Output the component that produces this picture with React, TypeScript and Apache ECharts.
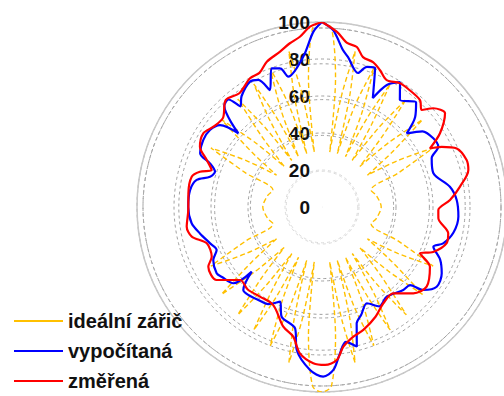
import React, { useEffect, useRef } from 'react';
import * as echarts from 'echarts';

// Radiation patterns in polar form: [angle in degrees clockwise from top, level]
const seriesNames = ['ideální zářič', 'vypočítaná', 'změřená'];
const seriesColors = ['#ffc000', '#0000ff', '#ff0000'];

const radiusMin = 0;
const radiusMax = 100;
const radiusStep = 20;

const ideal: [number, number][] = [
  [0, 100], [3, 97], [6, 70], [8, 30], [10, 62], [12, 86], [14, 62], [16, 30],
  [18, 58], [20.5, 80], [23, 55], [25, 30], [27, 55], [29, 76], [31, 52], [33, 30],
  [35.5, 52], [38, 74], [40.5, 50], [43, 30], [46, 50], [49, 72], [52, 48], [55, 30],
  [58.5, 48], [62, 68], [66, 45], [71, 28], [78, 30], [90, 32], [102, 30], [109, 28],
  [114, 45], [118, 68], [121.5, 48], [125, 30], [128, 48], [131, 72], [134, 50], [137, 30],
  [139.5, 50], [142, 74], [144.5, 52], [147, 30], [149, 55], [151, 76], [153, 55], [155, 30],
  [157, 56], [159.5, 80], [162, 58], [164, 30], [166, 62], [168, 86], [170, 62], [172, 30],
  [174, 70], [177, 97], [180, 100], [183, 97], [186, 70], [188, 30], [190, 62], [192, 86],
  [194, 62], [196, 30], [198, 58], [200.5, 80], [203, 55], [205, 30], [207, 55], [209, 76],
  [211, 52], [213, 30], [215.5, 52], [218, 74], [220.5, 50], [223, 30], [226, 50], [229, 72],
  [232, 48], [235, 30], [238.5, 48], [242, 68], [246, 45], [251, 28], [258, 30], [270, 32],
  [282, 30], [289, 28], [294, 45], [298, 68], [301.5, 48], [305, 30], [308, 48], [311, 72],
  [314, 50], [317, 30], [319.5, 50], [322, 74], [324.5, 52], [327, 30], [329, 55], [331, 76],
  [333, 55], [335, 30], [337, 56], [339.5, 80], [342, 58], [344, 30], [346, 62], [348, 86],
  [350, 62], [352, 30], [354, 70], [357, 97], [360, 100],
];

const computed: [number, number][] = [
  [0, 100], [3.6, 95.8], [7.6, 85.6], [9.8, 82.3], [15, 75], [17.8, 79.5], [20.9, 80.4],
  [25, 65], [28, 74.7], [32, 79.6], [36, 71.6], [42, 76], [46, 70], [49, 60.7], [53, 68],
  [58.3, 70.7], [62.6, 70.8], [66, 64.9], [73, 62.9], [81, 70], [87, 72.9], [94, 73.9],
  [101, 72.4], [106.7, 68.4], [109.6, 63.9], [114, 69.9], [119, 74], [124.8, 75.5],
  [129.3, 70.8], [131.6, 63.6], [135.6, 62.8], [144.2, 59.8], [150, 62], [155, 57.4],
  [160, 62], [163.4, 65.6], [166, 77.8], [170, 74], [173, 79.7], [176, 88.3], [179.6, 91.7],
  [184.2, 88.3], [190, 78.5], [192.5, 67.2], [200.2, 63.2], [203.9, 56], [209, 60],
  [214.4, 60.9], [220, 62], [223.5, 61.8], [227.4, 51.6], [229.3, 63.2], [235, 66],
  [237.8, 67.3], [244, 65.4], [247.8, 61.5], [252, 63.6], [257.8, 67.5], [262.9, 71],
  [270, 72.3], [277.3, 71.9], [282.2, 69.3], [285.1, 62.7], [288.3, 60.9], [291.3, 65],
  [293.8, 72], [299.4, 73.7], [304.5, 73.5], [308.8, 70.7], [311.4, 60.3], [316, 76],
  [319, 77], [321, 70], [324, 74], [330, 78.1], [333.4, 76.8], [336, 69.2], [340, 79.8],
  [343.2, 78.3], [345.5, 72.8], [352.9, 81.9], [357.2, 94.9], [360, 100],
];

const measured: [number, number][] = [
  [0, 100], [4.9, 95], [8.7, 89.7], [12.3, 88.5], [15.3, 84], [19.4, 83], [22.9, 80.4],
  [27, 77], [32, 79], [36, 79], [42.5, 78.4], [45.8, 75.2], [48.4, 80.4], [52.7, 83.6],
  [58, 75.2], [61.5, 66.4], [63.3, 72.4], [66.5, 79.4], [72, 82.2], [75.8, 81.6],
  [81.6, 75.4], [86.9, 69.3], [91.5, 62.9], [95.5, 63.2], [101.8, 69.7], [106, 70.2],
  [112, 64.8], [115.3, 58.6], [119, 66.7], [127.3, 71.1], [133.4, 67.9], [140.4, 60.5],
  [147.5, 61.7], [154, 66], [161.4, 70.1], [166.4, 72.1], [171.3, 76.4], [174.5, 83.1],
  [178.9, 85.4], [183.2, 84.6], [188.6, 80], [192.5, 71.8], [197.9, 68], [206.4, 59.2],
  [214.7, 58.9], [222, 60], [228.3, 59.3], [235.3, 69.3], [242.3, 69.4], [245.7, 65.4],
  [252.5, 65.3], [257.2, 72.2], [261.7, 73.9], [268.7, 72.3], [275.8, 72.6], [283.1, 72.3],
  [286.1, 68.7], [288.5, 62.9], [292.2, 67.3], [296.3, 73.6], [301.8, 75.5], [306.5, 73],
  [312, 72], [318, 77.8], [324, 76], [330.8, 79.7], [335, 80], [339.2, 84], [344.9, 87],
  [348.9, 90.2], [352.6, 92.8], [356.2, 97.7], [360, 100],
];

const FONT = '"Liberation Sans", Arial, sans-serif';
const CENTER = [322, 207];
const LEGEND_TOPS = [311, 341, 371];

// polar series take [radius, angle]
const toPolar = (pts: [number, number][]) => pts.map(([a, v]) => [v, a]);

function buildOption() {
  const angleBase = {
    type: 'value' as const,
    min: 0,
    max: 360,
    startAngle: 90,
    clockwise: true,
    axisTick: { show: false },
    axisLabel: { show: false },
    splitLine: { show: false },
  };
  const radiusBase = {
    type: 'value' as const,
    min: radiusMin,
    max: radiusMax,
    interval: radiusStep,
    axisLine: { show: false },
    axisTick: { show: false },
  };
  const ringColors = ['#a0a0a0', '#dadada', '#a0a0a0', '#a0a0a0', '#a0a0a0', '#a0a0a0'];
  const series = [ideal, computed, measured].map((pts, i) => ({
    name: seriesNames[i],
    type: 'line',
    coordinateSystem: 'polar',
    polarIndex: 0,
    symbol: 'none',
    smooth: 0.3,
    data: toPolar(pts),
    lineStyle:
      i === 0
        ? { color: seriesColors[i], width: 1.4, type: [5, 3] }
        : { color: seriesColors[i], width: 2.2 },
    itemStyle: { color: seriesColors[i] },
  }));
  return {
    animation: false,
    backgroundColor: '#ffffff',
    polar: [
      { center: CENTER, radius: 185 },
      { center: CENTER, radius: 179 },
    ],
    angleAxis: [
      { ...angleBase, polarIndex: 0, axisLine: { show: true, lineStyle: { color: '#c8c8c8', width: 1.5 } } },
      { ...angleBase, polarIndex: 1, axisLine: { show: true, lineStyle: { color: '#aaaaaa', width: 1, type: [4, 3] } } },
    ],
    radiusAxis: [
      {
        ...radiusBase,
        polarIndex: 0,
        axisLabel: {
          show: true,
          color: '#111',
          fontSize: 19,
          fontFamily: FONT,
          fontWeight: 'bold',
          margin: 12,
        },
        splitLine: { show: true, lineStyle: { color: ringColors, width: 1, type: [3, 3] } },
      },
      {
        ...radiusBase,
        polarIndex: 1,
        axisLabel: { show: false },
        splitLine: { show: true, lineStyle: { color: ringColors, width: 1, type: [3, 3] } },
      },
    ],
    legend: seriesNames.map((name, i) => ({
      orient: 'vertical',
      left: 14,
      top: LEGEND_TOPS[i],
      padding: 0,
      icon: 'rect',
      itemWidth: 49,
      itemHeight: 2,
      data: [name],
      textStyle: { fontSize: 20, lineHeight: 20, fontWeight: 'bold', fontFamily: FONT, color: '#111' },
    })),
    series,
  };
}

export default function App() {
  const ref = useRef<HTMLDivElement>(null);
  useEffect(() => {
    if (!ref.current) return;
    const chart = echarts.init(ref.current, null, { renderer: 'svg' });
    chart.setOption(buildOption() as any);
    return () => chart.dispose();
  }, []);
  return (
    <div
      ref={ref}
      style={{ position: 'fixed', left: 0, top: 0, width: 504, height: 396, background: '#fff' }}
    />
  );
}
